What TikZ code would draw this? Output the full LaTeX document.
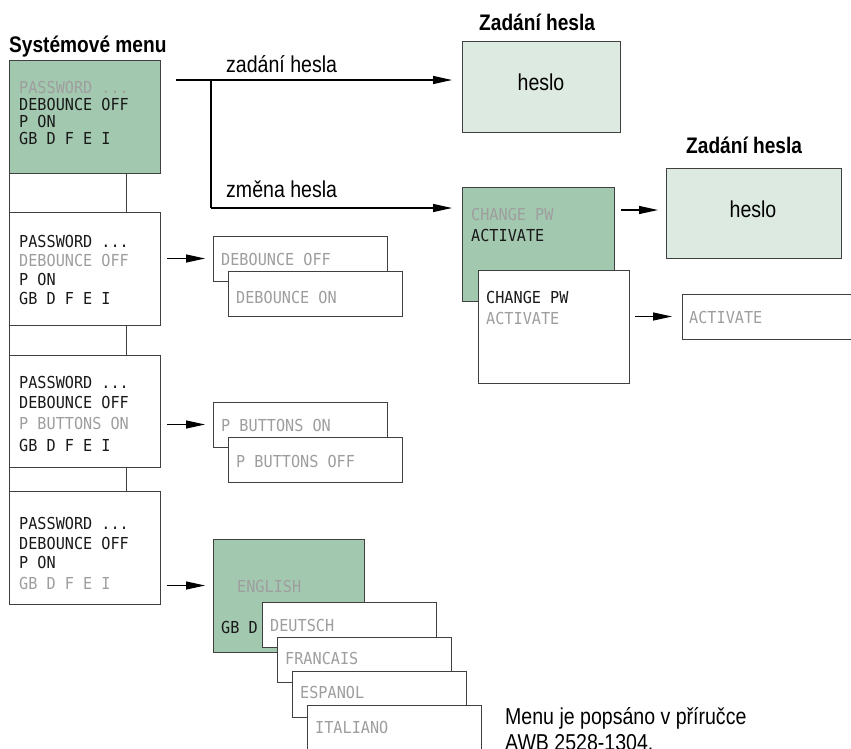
\documentclass[tikz,border=0pt]{standalone}
\usepackage{fontspec}
\setmainfont[FakeStretch=0.85]{Liberation Sans}
\newfontfamily\lcd[FakeStretch=0.92]{DejaVu Sans Mono}
\usetikzlibrary{arrows.meta,calc}
\definecolor{boxgreen}{RGB}{163,200,176}
\definecolor{palegreen}{RGB}{221,234,225}
\definecolor{lcdgray}{RGB}{158,158,158}
\definecolor{lcdblack}{RGB}{25,25,25}
\tikzset{
 panel/.style={draw=black!75, line width=0.9pt, fill=white, anchor=north west, inner sep=0pt, outer sep=0pt},
 greenpanel/.style={panel, fill=boxgreen},
 palepanel/.style={panel, fill=palegreen},
 lcdon/.style={anchor=base west, inner sep=0pt, font=\lcd\fontsize{16.5}{19}\selectfont, text=lcdblack},
 lcdoff/.style={lcdon, text=lcdgray},
 lbl/.style={anchor=base west, inner sep=0pt, font=\fontsize{23}{27}\selectfont},
 headlbl/.style={lbl, font=\fontsize{22.5}{27}\selectfont\bfseries},
 arr/.style={line width=1.2pt, -{Triangle[length=19pt,width=8pt]}},
 tabline/.style={line width=0.9pt, draw=black!75},
}
\begin{document}
\begin{tikzpicture}[x=1pt,y=-1pt]
\useasboundingbox (0,0) rectangle (851,748);
\clip (0,0) rectangle (851,748);
% left column
\node[greenpanel, minimum width=151pt, minimum height=113pt] (b1) at (9,60) {};
\node[panel, minimum width=151pt, minimum height=113pt] (b2) at (9,212) {};
\node[panel, minimum width=151pt, minimum height=112pt] (b3) at (9,355) {};
\node[panel, minimum width=151pt, minimum height=113pt] (b4) at (9,491) {};
\foreach \u/\l in {b1/b2,b2/b3,b3/b4}{
  \draw[tabline] (\u.south west) -- (\l.north west);
  \draw[tabline] ($(\u.south west)+(117,0)$) -- ($(\l.north west)+(117,0)$);
}
\node[headlbl] (title) at (9,52) {Systémové menu};
% box texts
\node[lcdoff] (t11) at (19,93) {PASSWORD ...};
\node[lcdon] (t12) at (19,110) {DEBOUNCE OFF};
\node[lcdon] (t13) at (19,127) {P ON};
\node[lcdon] (t14) at (19,144) {GB D F E I};
\node[lcdon] (t21) at (19,247) {PASSWORD ...};
\node[lcdoff] (t22) at (19,266) {DEBOUNCE OFF};
\node[lcdon] (t23) at (19,285) {P ON};
\node[lcdon] (t24) at (19,304) {GB D F E I};
\node[lcdon] (t31) at (19,388) {PASSWORD ...};
\node[lcdon] (t32) at (19,408) {DEBOUNCE OFF};
\node[lcdoff] (t33) at (19,429) {P BUTTONS ON};
\node[lcdon] (t34) at (19,451) {GB D F E I};
\node[lcdon] (t41) at (19,529) {PASSWORD ...};
\node[lcdon] (t42) at (19,549) {DEBOUNCE OFF};
\node[lcdon] (t43) at (19,568) {P ON};
\node[lcdoff] (t44) at (19,589) {GB D F E I};
% debounce
\node[panel, minimum width=174pt, minimum height=45pt] (d1) at (213,236) {};
\node[lcdoff] (d1t) at (221,265) {DEBOUNCE OFF};
\node[panel, minimum width=174pt, minimum height=45pt] (d2) at (228,271) {};
\node[lcdoff] (d2t) at (236,303) {DEBOUNCE ON};
% p buttons
\node[panel, minimum width=174pt, minimum height=45pt] (p1) at (213,402) {};
\node[lcdoff] (p1t) at (221,431) {P BUTTONS ON};
\node[panel, minimum width=174pt, minimum height=45pt] (p2) at (228,437) {};
\node[lcdoff] (p2t) at (236,467) {P BUTTONS OFF};
% languages
\node[greenpanel, minimum width=151pt, minimum height=113pt] (en) at (213,539) {};
\node[lcdoff] (ent) at (237,592) {ENGLISH};
\node[lcdon] (gbd) at (221,633) {GB D};
\node[panel, minimum width=174pt, minimum height=45pt] (de) at (262,602) {};
\node[lcdoff] (det) at (270,631) {DEUTSCH};
\node[panel, minimum width=174pt, minimum height=45pt] (fr) at (277,637) {};
\node[lcdoff] (frt) at (285,664) {FRANCAIS};
\node[panel, minimum width=174pt, minimum height=46pt] (es) at (292,671) {};
\node[lcdoff] (est) at (300,698) {ESPANOL};
\node[panel, minimum width=174pt, minimum height=70pt] (it) at (307,705) {};
\node[lcdoff] (itt) at (315,733) {ITALIANO};
% password
\node[palepanel, minimum width=158pt, minimum height=91pt] (h1) at (462,41) {};
\node[inner sep=0pt, font=\fontsize{23}{27}\selectfont] (h1t) at (541,82) {heslo};
\node[headlbl] (z1) at (479,30) {Zadání hesla};
\node[greenpanel, minimum width=152pt, minimum height=114pt] (cp1) at (462,187) {};
\node[lcdoff] (cp1a) at (471,220) {CHANGE PW};
\node[lcdon] (cp1b) at (471,241) {ACTIVATE};
\node[panel, minimum width=151pt, minimum height=113pt] (cp2) at (478,270) {};
\node[lcdon] (cp2a) at (486,303) {CHANGE PW};
\node[lcdoff] (cp2b) at (486,324) {ACTIVATE};
\node[palepanel, minimum width=175pt, minimum height=90pt] (h2) at (666,168) {};
\node[inner sep=0pt, font=\fontsize{23}{27}\selectfont] (h2t) at (753,209) {heslo};
\node[headlbl] (z2) at (686,153) {Zadání hesla};
\node[panel, minimum width=180pt, minimum height=45pt] (act) at (682,294) {};
\node[lcdoff] (actt) at (689,323) {ACTIVATE};
% connectors
\coordinate (zs) at (176,80);
\coordinate (zj) at (211,80);
\coordinate (zk) at (211,208);
\draw[arr] (zs) -- ($(zs -| h1.west)+(-10,0)$);
\draw[line width=1.2pt] (zj) -- (zk);
\draw[arr] (zk) -- ($(zk -| cp1.west)+(-10,0)$);
\node[lbl] (lz) at (226,72) {zadání hesla};
\node[lbl] (lm) at (226,197) {změna hesla};
\draw[arr] ($(cp1.east |- h2.west)+(7,-3)$) -- ($(h2.west)+(-8,-3)$);
\draw[arr] ($(cp2.east |- act.west)+(6,0)$) -- ($(act.west)+(-10,0)$);
\draw[arr] ($(b2.east |- d1.west)+(7,0)$) -- ($(d1.west)+(-8,0)$);
\draw[arr] ($(b3.east |- p1.west)+(7,0)$) -- ($(p1.west)+(-8,0)$);
\draw[arr] ($(b4.east)+(7,38)$) -- ($(en.west |- b4.east)+(-8,38)$);
% note
\node[lbl] (n1) at (505,724) {Menu je popsáno v příručce};
\node[lbl] (n2) at (505,750) {AWB 2528-1304.};
\end{tikzpicture}
\end{document}
